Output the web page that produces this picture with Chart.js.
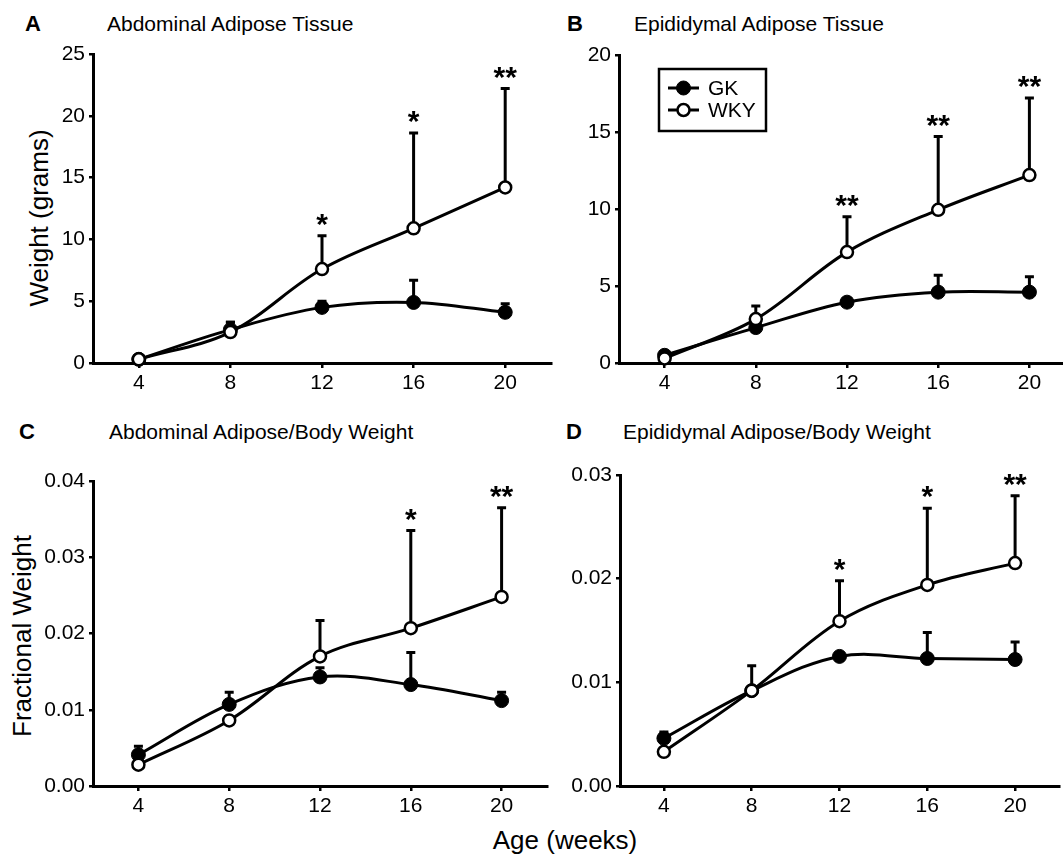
<!DOCTYPE html>
<html>
<head>
<meta charset="utf-8">
<script src="https://cdn.jsdelivr.net/npm/chart.js@4.4.1/dist/chart.umd.min.js"></script>
<style>
  html, body { margin: 0; padding: 0; background: #fff; }
  body { width: 1063px; height: 856px; overflow: hidden; position: relative;
         font-family: "Liberation Sans", Arial, sans-serif; color: #000; }
  canvas { position: absolute; }
  .t { position: absolute; line-height: 1; white-space: nowrap; }
  .lt { font-weight: bold; font-size: 22px; }
  .tt { font-size: 21px; }
  .ax { font-size: 26px; transform: translate(-50%, -50%) rotate(-90deg); }
  .axh { font-size: 26px; transform: translate(-50%, -50%); }
</style>
</head>
<body>
<div class="t lt" style="left:25px;top:13px">A</div>
<div class="t tt" style="left:107px;top:13px">Abdominal Adipose Tissue</div>
<div class="t lt" style="left:567px;top:13px">B</div>
<div class="t tt" style="left:634px;top:13px">Epididymal Adipose Tissue</div>
<div class="t lt" style="left:19px;top:421px">C</div>
<div class="t tt" style="left:109px;top:421px">Abdominal Adipose/Body Weight</div>
<div class="t lt" style="left:566px;top:421px">D</div>
<div class="t tt" style="left:623px;top:421px">Epididymal Adipose/Body Weight</div>
<div class="t ax" style="left:39px;top:218px">Weight (grams)</div>
<div class="t ax" style="left:22px;top:636px">Fractional Weight</div>
<div class="t axh" style="left:565px;top:840px">Age (weeks)</div>

<canvas id="chartA" width="560" height="420" style="left:0;top:0"></canvas>
<canvas id="chartB" width="560" height="420" style="left:530px;top:0"></canvas>
<canvas id="chartC" width="560" height="430" style="left:0;top:420px"></canvas>
<canvas id="chartD" width="560" height="430" style="left:530px;top:420px"></canvas>

<script>
const weeks = [4, 8, 12, 16, 20];
const xTicks = [4, 8, 12, 16, 20];

// A: abdominal adipose tissue (g)
const gkAbd = [0.3, 2.7, 4.5, 4.9, 4.1];
const gkAbdSd = [0.1, 0.6, 0.5, 1.8, 0.7];
const wkyAbd = [0.3, 2.5, 7.6, 10.9, 14.2];
const wkyAbdSd = [0.1, 0.8, 2.7, 7.7, 8.0];
const starsAbd = ["", "", "*", "*", "**"];
const yTicksAbd = [0, 5, 10, 15, 20, 25];

// B: epididymal adipose tissue (g)
const gkEpi = [0.5, 2.3, 3.95, 4.6, 4.6];
const gkEpiSd = [0.1, 0.3, 0.2, 1.1, 1.0];
const wkyEpi = [0.3, 2.85, 7.2, 9.95, 12.2];
const wkyEpiSd = [0.1, 0.85, 2.3, 4.75, 5.0];
const starsEpi = ["", "", "**", "**", "**"];
const yTicksEpi = [0, 5, 10, 15, 20];

// C: abdominal adipose / body weight
const gkAbdFrac = [0.0041, 0.0107, 0.0143, 0.0133, 0.0112];
const gkAbdFracSd = [0.0011, 0.0016, 0.0012, 0.0042, 0.0011];
const wkyAbdFrac = [0.0028, 0.0086, 0.0170, 0.0207, 0.0248];
const wkyAbdFracSd = [0.0003, 0.0005, 0.0047, 0.0128, 0.0117];
const starsAbdFrac = ["", "", "", "*", "**"];
const yTicksAbdFrac = [0, 0.01, 0.02, 0.03, 0.04];

// D: epididymal adipose / body weight
const gkEpiFrac = [0.0046, 0.0092, 0.0125, 0.0123, 0.0122];
const gkEpiFracSd = [0.0006, 0.0003, 0.0003, 0.0025, 0.0017];
const wkyEpiFrac = [0.0033, 0.0092, 0.0159, 0.0194, 0.0215];
const wkyEpiFracSd = [0.0002, 0.0024, 0.0039, 0.0074, 0.0065];
const starsEpiFrac = ["", "", "*", "*", "**"];
const yTicksEpiFrac = [0, 0.01, 0.02, 0.03];

const FONT = "Liberation Sans";

// upward SD bars behind the points, significance stars above WKY bars
const errorBars = {
  id: "errorBars",
  beforeDatasetsDraw(chart) {
    const { ctx, scales: { x, y } } = chart;
    ctx.save();
    ctx.strokeStyle = "#000";
    ctx.lineWidth = 3;
    chart.data.datasets.forEach(ds => {
      ds.data.forEach((p, i) => {
        const px = x.getPixelForValue(p.x);
        const py = y.getPixelForValue(p.y);
        const top = y.getPixelForValue(p.y + ds.sd[i]);
        ctx.beginPath();
        ctx.moveTo(px, py);
        ctx.lineTo(px, top);
        ctx.moveTo(px - 4.5, top);
        ctx.lineTo(px + 4.5, top);
        ctx.stroke();
      });
    });
    ctx.restore();
  },
  afterDatasetsDraw(chart) {
    const { ctx, scales: { x, y } } = chart;
    ctx.save();
    ctx.fillStyle = "#000";
    ctx.font = "bold 30px '" + FONT + "'";
    ctx.textAlign = "center";
    ctx.textBaseline = "alphabetic";
    chart.data.datasets.forEach(ds => {
      if (!ds.stars) return;
      ds.data.forEach((p, i) => {
        if (!ds.stars[i]) return;
        const top = y.getPixelForValue(p.y + ds.sd[i]);
        ctx.fillText(ds.stars[i], x.getPixelForValue(p.x), top - 2);
      });
    });
    ctx.restore();
  }
};

const boxLegend = {
  id: "boxLegend",
  afterDraw(chart, args, opts) {
    const { ctx, chartArea } = chart;
    const x0 = chartArea.left + opts.dx, y0 = chartArea.top + opts.dy;
    ctx.save();
    ctx.strokeStyle = "#000";
    ctx.lineWidth = 2.5;
    ctx.strokeRect(x0, y0, opts.w, opts.h);
    chart.data.datasets.forEach((ds, i) => {
      const cy = y0 + opts.rowTop + i * opts.rowGap;
      const sx = x0 + 9;
      ctx.lineWidth = 3;
      ctx.beginPath();
      ctx.moveTo(sx, cy);
      ctx.lineTo(sx + 31, cy);
      ctx.stroke();
      ctx.beginPath();
      ctx.arc(sx + 15.5, cy, ds.pointRadius, 0, Math.PI * 2);
      ctx.fillStyle = ds.pointBackgroundColor;
      ctx.fill();
      ctx.lineWidth = ds.pointBorderWidth;
      ctx.stroke();
      ctx.fillStyle = "#000";
      ctx.font = "21px '" + FONT + "'";
      ctx.textBaseline = "middle";
      ctx.fillText(ds.label, sx + 40, cy + 1);
    });
    ctx.restore();
  }
};

function panel(id, gk, gkSd, wky, wkySd, stars, yTicks, decimals, yAxisW, pad, legend) {
  const pts = vals => weeks.map((w, i) => ({ x: w, y: vals[i] }));
  return new Chart(document.getElementById(id), {
    type: "line",
    data: {
      datasets: [
        {
          label: "GK", data: pts(gk), sd: gkSd,
          borderColor: "#000", borderWidth: 3, tension: 0.35, clip: false, order: 1,
          pointRadius: 7, pointBackgroundColor: "#000", pointBorderColor: "#000", pointBorderWidth: 1
        },
        {
          label: "WKY", data: pts(wky), sd: wkySd, stars: stars,
          borderColor: "#000", borderWidth: 3, tension: 0.35, clip: false, order: 0,
          pointRadius: 6, pointBackgroundColor: "#fff", pointBorderColor: "#000", pointBorderWidth: 2.5
        }
      ]
    },
    options: {
      responsive: false,
      animation: false,
      devicePixelRatio: 1,
      layout: { padding: pad },
      plugins: {
        legend: { display: false },
        tooltip: { enabled: false },
        boxLegend: legend
      },
      scales: {
        x: {
          type: "linear", min: 2, max: 22,
          afterBuildTicks: s => { s.ticks = xTicks.map(v => ({ value: v })); },
          afterFit: s => { s.height = 45; },
          border: { display: true, color: "#000", width: 3 },
          grid: { drawOnChartArea: false, drawTicks: true, tickLength: 5, color: "#000", lineWidth: 2.5 },
          ticks: { color: "#000", padding: 3, maxRotation: 0, font: { family: FONT, size: 21 } }
        },
        y: {
          type: "linear", min: yTicks[0], max: yTicks[yTicks.length - 1],
          afterBuildTicks: s => { s.ticks = yTicks.map(v => ({ value: v })); },
          afterFit: s => { s.width = yAxisW; },
          border: { display: true, color: "#000", width: 3 },
          grid: { drawOnChartArea: false, drawTicks: true, tickLength: 4, color: "#000", lineWidth: 2.5 },
          ticks: {
            color: "#000", padding: 4, font: { family: FONT, size: 21 },
            callback: v => v.toFixed(decimals)
          }
        }
      }
    },
    plugins: [errorBars, boxLegend]
  });
}

panel("chartA", gkAbd, gkAbdSd, wkyAbd, wkyAbdSd, starsAbd, yTicksAbd, 0, 93,
  { left: 0, top: 54, right: 9, bottom: 12 }, false);
panel("chartB", gkEpi, gkEpiSd, wkyEpi, wkyEpiSd, starsEpi, yTicksEpi, 0, 89,
  { left: 0, top: 55, right: 15, bottom: 12 },
  { dx: 40, dy: 14, w: 107, h: 62, rowTop: 19, rowGap: 22 });
panel("chartC", gkAbdFrac, gkAbdFracSd, wkyAbdFrac, wkyAbdFracSd, starsAbdFrac, yTicksAbdFrac, 2, 93,
  { left: 0, top: 61, right: 13, bottom: 19 }, false);
panel("chartD", gkEpiFrac, gkEpiFracSd, wkyEpiFrac, wkyEpiFracSd, starsEpiFrac, yTicksEpiFrac, 2, 90,
  { left: 0, top: 55, right: 31, bottom: 19 }, false);
</script>
</body>
</html>
